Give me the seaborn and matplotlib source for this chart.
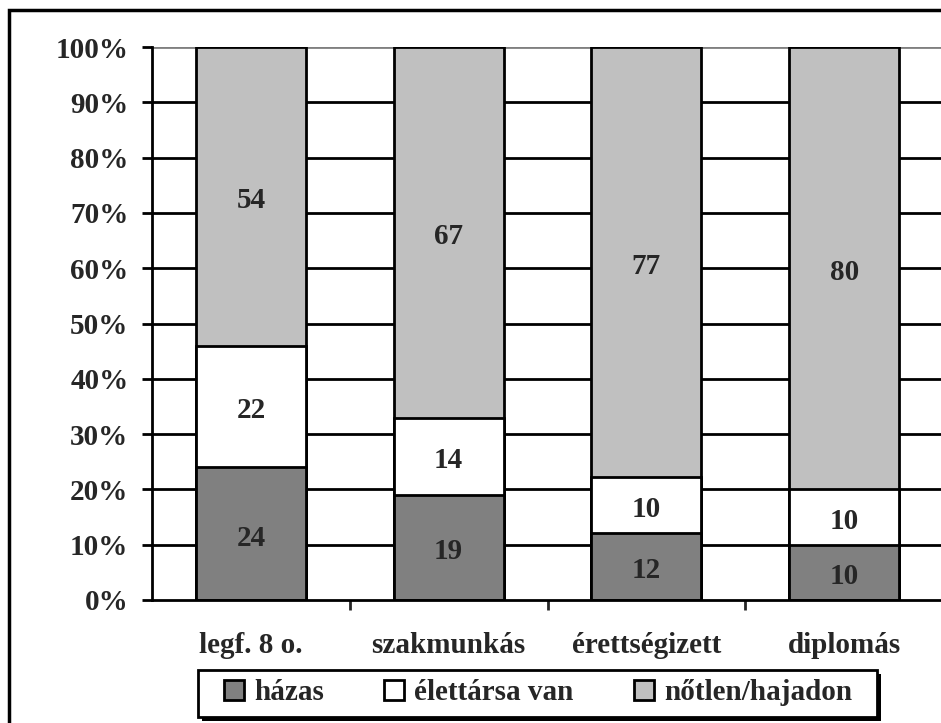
import pandas as pd
import numpy as np
import seaborn as sns
import matplotlib.pyplot as plt
from matplotlib.patches import Patch, Rectangle

# Adatok
categories = ["legf. 8 o.", "szakmunkás", "érettségizett", "diplomás"]
hazas = [24, 19, 12, 10]
elettars = [22, 14, 10, 10]
notlen = [54, 67, 77, 80]
series_names = ["házas", "élettársa van", "nőtlen/hajadon"]
colors = ["#808080", "#FFFFFF", "#C0C0C0"]

df = pd.DataFrame({"cat": categories, "házas": hazas,
                   "élettársa van": elettars, "nőtlen/hajadon": notlen})
total = df[series_names].sum(axis=1)
# 100%-os halmozott oszlopok
pct = df[series_names].div(total, axis=0) * 100
cum = pct.cumsum(axis=1)

sns.set_style("white")
plt.rcParams["font.family"] = ["Liberation Serif", "DejaVu Serif"]
plt.rcParams["font.weight"] = "bold"
plt.rcParams["font.size"] = 21

fig = plt.figure(figsize=(9.41, 7.23), dpi=100)
ax = fig.add_axes([152 / 941, 1 - 600 / 723, (943 - 152) / 941, (600 - 47) / 723])

# rácsvonalak a háttérben
for y in range(10, 100, 10):
    ax.axhline(y, color="black", lw=2, zorder=0)
ax.axhline(100, color="#808080", lw=2, zorder=0)

# a legfelső réteget rajzoljuk először, aztán rá a kisebb összegeket
for i in range(len(series_names) - 1, -1, -1):
    name = series_names[i]
    sns.barplot(x=df["cat"], y=cum[name], color=colors[i], saturation=1,
                width=0.556, edgecolor="black", linewidth=2, ax=ax, zorder=2)

# értékcímkék
for j in range(len(categories)):
    for i, name in enumerate(series_names):
        top = cum[name].iloc[j]
        mid = top - pct[name].iloc[j] / 2
        ax.text(j, mid - 0.8, str(df[name].iloc[j]), ha="center", va="center",
                fontsize=21, fontweight="bold", zorder=3)

ax.set_xlim(-0.5, 3.5)
ax.set_ylim(0, 100)
ax.set_xlabel("")
ax.set_ylabel("")
ax.set_yticks(range(0, 101, 10))
ax.set_yticklabels([f"{v}%" for v in range(0, 101, 10)])
ax.set_xticks(range(len(categories)))
ax.set_xticklabels(categories)
ax.tick_params(axis="x", length=0, pad=23)
ax.tick_params(axis="y", length=7, width=2, direction="out", color="black", pad=10, left=True)
# kategóriahatár jelölők
ax.set_xticks([0.5, 1.5, 2.5, 3.5], minor=True)
ax.tick_params(axis="x", which="minor", length=7, width=2, direction="out", bottom=True)

for s in ["top", "right"]:
    ax.spines[s].set_visible(False)
for s in ["left", "bottom"]:
    ax.spines[s].set_color("black")
    ax.spines[s].set_linewidth(2)

# jelmagyarázat keret árnyékkal
W, H = 941, 723
fig.patches.append(Rectangle((202 / W, 1 - 721 / H), 679 / W, 47 / H, transform=fig.transFigure,
                             facecolor="black", edgecolor="black", linewidth=0))
fig.patches.append(Rectangle((198 / W, 1 - 717 / H), 679 / W, 47 / H, transform=fig.transFigure,
                             facecolor="white", edgecolor="black", linewidth=2))

handles = [Patch(facecolor=c, edgecolor="black", linewidth=2) for c in colors]
leg = fig.legend(handles, series_names, loc="center", ncol=3,
                 bbox_to_anchor=(538 / W, 1 - 693 / H), frameon=False,
                 handlelength=0.69, handleheight=0.69,
                 handletextpad=0.34, columnspacing=2.07, borderpad=0.1,
                 prop={"weight": "bold", "size": 21})

# ábra kerete
fig.patches.append(Rectangle((9 / W, -0.1), 1.2, 1 - 10 / H + 0.1, transform=fig.transFigure,
                             fill=False, edgecolor="black", linewidth=2.5))

fig.savefig("out.png", dpi=100)
